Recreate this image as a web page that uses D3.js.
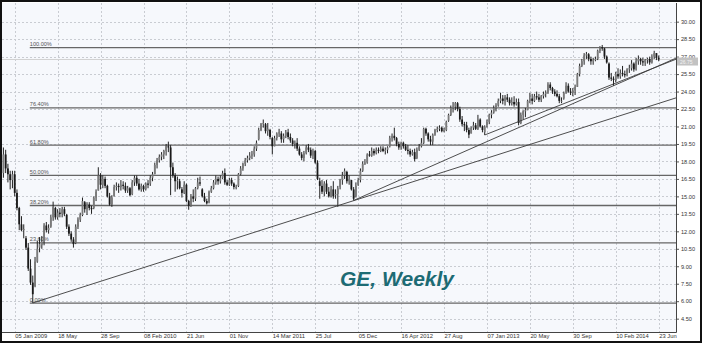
<!DOCTYPE html>
<html>
<head>
<meta charset="utf-8">
<script src="https://cdn.jsdelivr.net/npm/d3@7"></script>
<style>
  html, body { margin: 0; padding: 0; background: #fff; }
  svg { display: block; font-family: "Liberation Sans", Arial, sans-serif; }
</style>
</head>
<body>
<div id="container"></div>
<script>
// weekly bars, first one is the week of 01 Dec 2008
var firstWeek = "2008-12-01";
// [open, high, low, close]
var ohlc = [
  [17.0,19.2,16.6,18.6],[18.6,19.0,17.0,17.4],[17.4,17.8,16.2,16.9],[16.9,17.2,15.6,16.4],[16.4,17.2,15.7,16.9],
  [16.9,17.2,15.0,15.3],[15.3,15.6,13.8,14.0],[14.0,14.1,12.1,12.6],[12.6,13.3,12.0,12.1],[12.1,12.6,11.4,12.2],
  [11.4,11.6,10.4,10.6],[10.6,11.0,8.6,8.8],[8.8,9.6,7.4,7.6],[7.6,8.2,5.85,6.6],[7.3,9.8,7.2,9.4],
  [9.4,11.2,9.3,10.5],[10.6,11.5,10.2,10.9],[10.8,11.6,10.5,11.1],[11.1,12.7,10.8,12.5],[12.5,12.8,11.9,12.1],
  [12.1,12.6,11.8,12.3],[12.4,13.4,12.3,13.2],[13.2,14.55,12.9,14.1],[14.0,14.1,13.0,13.2],[13.2,13.9,13.0,13.6],
  [13.6,14.0,13.2,13.5],[13.5,14.1,13.2,13.9],[13.9,14.1,13.3,13.5],[13.4,13.5,12.2,12.4],[12.4,12.6,11.6,11.8],
  [11.8,12.0,11.1,11.3],[11.3,11.5,10.6,10.9],[11.0,12.6,10.9,12.4],[12.4,13.2,12.2,13.0],[13.0,13.6,12.8,13.4],
  [13.4,14.9,13.3,14.6],[14.5,14.6,13.6,13.9],[13.9,14.5,13.4,14.3],[14.3,14.5,13.8,14.0],[14.0,14.2,13.5,13.9],
  [14.0,15.0,13.9,14.9],[14.9,15.6,14.6,15.4],[15.5,17.5,15.5,16.8],[16.8,17.0,15.6,16.0],[16.0,16.8,15.7,16.5],
  [16.5,16.7,15.7,15.9],[15.9,16.0,14.9,15.0],[15.0,15.3,14.2,14.3],[14.3,15.1,14.1,14.9],[15.0,16.0,15.0,15.8],
  [15.8,16.2,15.5,15.9],[15.9,16.1,15.3,15.8],[15.8,16.4,15.5,16.0],[16.0,16.3,15.6,15.9],[15.9,16.2,15.3,15.5],
  [15.5,15.9,15.3,15.7],[15.7,15.8,15.0,15.1],[15.2,16.4,15.1,16.2],[16.2,16.8,15.9,16.6],[16.6,16.8,15.9,16.1],
  [16.1,16.5,15.5,15.6],[15.6,16.1,15.4,15.9],[15.9,16.0,15.4,15.6],[15.6,16.2,15.5,16.1],[16.1,16.4,15.7,16.0],
  [16.1,16.8,15.9,16.6],[16.6,17.1,16.3,16.9],[16.9,17.9,16.9,17.7],[17.7,18.3,17.4,18.1],[18.1,18.6,17.9,18.4],
  [18.4,18.8,18.1,18.6],[18.6,19.0,18.2,18.9],[18.9,19.5,18.5,19.3],[19.3,19.7,18.8,19.2],[19.2,19.4,15.1,17.5],
  [17.5,17.9,16.6,16.8],[16.8,17.0,15.4,16.3],[16.3,16.7,15.6,16.4],[16.3,16.5,15.6,15.7],[15.6,15.8,14.9,15.3],
  [15.3,16.3,15.2,16.0],[16.0,16.1,14.5,14.6],[14.6,14.7,13.85,14.2],[14.2,15.2,14.1,15.0],[15.0,15.6,14.5,14.8],
  [14.8,15.8,14.6,15.7],[15.7,16.6,15.6,16.2],[16.2,16.7,15.9,16.1],[15.6,15.7,14.9,15.0],[15.0,15.3,14.5,14.6],
  [14.6,14.8,14.3,14.4],[14.5,15.5,14.4,15.4],[15.4,15.9,15.3,15.7],[15.7,16.4,15.6,16.2],[16.2,16.8,16.0,16.5],
  [16.5,16.7,16.0,16.3],[16.3,16.8,16.1,16.6],[16.6,17.2,16.5,17.0],[17.0,17.4,16.0,16.2],[16.2,16.4,15.9,16.0],
  [16.0,16.6,15.9,16.4],[16.4,16.6,15.9,16.1],[16.1,16.2,15.6,15.8],[15.8,16.0,15.6,15.8],[15.9,17.0,15.8,16.9],
  [16.9,17.6,16.8,17.4],[17.4,17.9,17.2,17.8],[17.8,18.3,17.6,18.1],[18.1,18.5,17.9,18.3],[18.3,18.8,18.1,18.5],
  [18.5,18.9,18.2,18.6],[18.6,19.3,18.4,19.1],[19.1,19.8,18.9,19.6],[19.9,20.9,19.8,20.7],[20.7,21.3,20.6,21.2],
  [21.2,21.6,20.9,21.3],[21.2,21.3,20.4,20.6],[20.6,21.3,20.2,20.8],[20.7,20.8,19.9,20.1],[20.0,20.1,18.6,19.3],
  [19.3,20.2,19.3,20.0],[20.0,20.5,19.8,20.4],[20.4,20.8,20.1,20.5],[20.4,20.6,19.6,19.9],[19.9,20.4,19.6,20.2],
  [20.2,20.7,20.0,20.5],[20.5,20.8,19.9,20.1],[20.1,20.4,19.6,19.8],[19.8,20.0,19.3,19.5],[19.5,19.8,19.1,19.6],
  [19.6,20.0,18.9,19.1],[19.1,19.3,18.5,18.6],[18.6,18.8,18.1,18.3],[18.3,18.9,18.0,18.7],[18.7,19.4,18.6,19.2],
  [19.2,19.5,18.8,19.0],[19.0,19.2,18.3,18.5],[18.5,19.1,18.2,18.9],[18.9,19.0,17.8,17.9],[17.9,18.1,16.4,16.5],
  [16.3,16.6,14.8,15.9],[15.9,16.4,15.2,15.4],[15.4,16.3,15.0,16.1],[16.1,16.4,15.2,15.4],[15.4,15.8,14.9,15.0],
  [15.0,15.9,14.9,15.6],[15.6,16.3,14.8,15.0],[15.1,15.6,14.8,15.2],[15.2,15.9,14.1,15.7],[15.8,16.5,15.6,16.4],
  [16.4,17.1,16.0,16.8],[16.8,17.4,16.5,17.2],[17.1,17.2,16.1,16.3],[16.3,16.8,16.0,16.5],[16.4,16.4,15.5,15.6],
  [15.6,15.8,14.65,14.8],[15.0,16.2,14.9,15.9],[16.0,16.6,15.9,16.4],[16.4,17.4,16.2,17.2],[17.2,18.0,17.1,17.8],
  [17.8,18.2,17.7,17.9],[17.9,18.7,17.8,18.6],[18.6,18.9,18.4,18.5],[18.5,19.2,18.4,18.9],[18.9,19.1,18.5,18.7],
  [18.7,19.2,18.6,19.0],[19.0,19.2,18.7,18.9],[18.9,19.3,18.8,19.1],[19.1,19.3,18.8,18.9],[18.9,19.2,18.6,19.0],
  [19.0,19.3,18.7,19.2],[19.3,20.2,19.2,20.0],[20.0,20.4,19.7,20.2],[20.2,20.9,19.8,20.0],[20.0,20.1,19.3,19.5],
  [19.5,19.7,19.0,19.2],[19.2,19.7,19.0,19.6],[19.6,19.7,19.1,19.3],[19.3,19.5,18.9,19.0],[19.0,19.4,18.6,18.9],
  [18.9,19.1,18.4,18.6],[18.6,19.0,18.5,18.8],[18.8,19.1,18.0,18.2],[18.3,19.2,18.2,19.0],[19.0,19.5,18.9,19.3],
  [19.3,20.0,19.2,19.6],[19.6,20.9,19.5,20.8],[20.8,20.9,20.2,20.4],[20.4,20.5,19.7,19.9],[19.9,20.2,19.4,19.7],
  [19.7,20.4,19.4,20.3],[20.3,20.8,20.2,20.7],[20.7,21.0,20.5,20.8],[20.8,21.1,20.6,20.9],[20.9,21.0,20.5,20.6],
  [20.6,20.9,20.5,20.7],[20.7,21.5,20.6,21.4],[21.5,22.1,21.4,22.0],[22.0,22.8,21.9,22.6],[22.6,23.1,22.2,22.7],
  [22.7,23.1,22.4,23.0],[23.0,23.1,22.3,22.5],[22.5,22.7,21.4,21.6],[21.6,21.9,21.0,21.2],[21.2,21.4,20.6,21.1],
  [21.1,21.4,20.5,20.7],[20.7,20.9,20.0,20.3],[20.4,21.0,20.4,20.9],[20.9,21.4,20.7,21.1],[21.1,21.3,20.7,20.8],
  [20.8,22.0,20.7,21.6],[21.6,21.7,20.9,21.0],[21.0,21.1,20.5,20.7],[20.5,21.1,20.27,21.0],[21.1,21.6,20.9,21.4],
  [21.4,22.1,21.2,22.0],[22.0,22.4,21.7,22.2],[22.2,22.8,22.1,22.6],[22.6,23.0,22.3,22.8],[22.8,23.4,22.7,23.2],
  [23.2,23.9,23.0,23.4],[23.4,23.7,22.9,23.2],[23.2,23.7,22.8,23.5],[23.5,23.8,23.1,23.3],[23.3,23.5,22.8,23.0],
  [23.0,23.5,22.8,23.1],[23.1,23.6,22.7,22.9],[22.9,23.4,22.8,23.1],[23.1,23.4,21.1,21.3],[21.3,22.2,21.2,22.0],
  [22.0,22.4,21.6,22.3],[22.3,22.6,21.8,22.4],[22.4,23.3,22.4,23.2],[23.2,23.9,23.0,23.4],[23.4,23.8,22.9,23.2],
  [23.2,23.8,23.1,23.6],[23.6,24.0,23.3,23.5],[23.5,23.8,23.1,23.3],[23.3,23.7,23.1,23.6],[23.6,24.0,23.4,23.8],
  [23.8,24.1,23.5,23.9],[23.9,24.8,23.8,24.6],[24.6,24.8,24.1,24.3],[24.3,24.4,23.8,24.0],[24.0,24.2,23.6,23.8],
  [23.8,24.1,23.5,23.6],[23.6,23.8,23.0,23.2],[23.2,23.5,23.0,23.2],[23.4,24.0,23.3,23.9],[23.9,24.8,23.8,24.5],
  [24.5,24.7,23.9,24.0],[24.0,24.3,23.7,23.9],[23.9,24.3,23.6,24.1],[24.1,24.6,23.7,24.4],[24.4,25.6,24.4,25.5],
  [25.5,26.4,25.3,26.2],[26.2,26.8,26.1,26.6],[26.6,27.3,26.3,27.1],[27.1,27.4,26.8,27.2],[27.2,27.3,26.6,26.8],
  [26.8,27.0,26.3,26.6],[26.6,26.9,26.3,26.7],[26.7,27.0,26.6,26.8],[26.8,27.6,26.7,27.5],[27.5,27.9,27.3,27.8],
  [27.8,28.0,27.5,27.7],[27.7,27.75,26.8,27.0],[27.0,27.1,26.4,26.5],[26.4,26.5,25.0,25.2],[25.2,25.6,24.9,25.1],
  [25.1,25.3,24.5,25.0],[25.0,25.7,24.8,25.5],[25.5,26.0,25.1,25.3],[25.3,25.9,25.1,25.6],[25.6,26.2,25.3,25.5],
  [25.5,25.8,25.2,25.4],[25.4,26.0,25.3,25.9],[25.9,26.3,25.6,26.0],[26.0,26.7,25.8,26.4],[26.4,26.5,25.7,25.9],
  [25.9,26.9,25.8,26.6],[26.6,27.1,26.3,26.8],[26.8,26.9,26.3,26.6],[26.6,26.9,26.2,26.5],[26.5,26.8,26.2,26.7],
  [26.7,26.9,26.4,26.8],[26.8,27.0,26.3,26.5],[26.5,27.2,26.4,27.0],[27.0,27.5,26.8,27.3],[27.3,27.3,26.7,26.9],
  [26.9,27.1,26.6,26.75]
];
var lastPrice = 26.75;

var priceTicks = [4.5, 6, 7.5, 9, 10.5, 12, 13.5, 15, 16.5, 18, 19.5, 21, 22.5, 24, 25.5, 27, 28.5, 30];
var dateTicks = ["2009-01-05","2009-05-18","2009-09-28","2010-02-08","2010-06-21","2010-11-01","2011-03-14","2011-07-25",
  "2011-12-05","2012-04-16","2012-08-27","2013-01-07","2013-05-20","2013-09-30","2014-02-10","2014-06-23"];
var dateLabels = ["05 Jan 2009","18 May","28 Sep","08 Feb 2010","21 Jun","01 Nov","14 Mar 2011","25 Jul",
  "05 Dec","16 Apr 2012","27 Aug","07 Jan 2013","20 May","30 Sep","10 Feb 2014","23 Jun"];

// fibonacci retracement between the 2009 low and the 2013 high
var fibLow = 5.83, fibHigh = 27.78;
var fibLevels = [0, 23.6, 38.2, 50, 61.8, 76.4, 100];
var fibLabels = ["0.00%", "23.60%", "38.20%", "50.00%", "61.80%", "76.40%", "100.00%"];
var fibStart = "2009-03-02";

// trend lines: two anchors each, extended to the right edge
var trendLines = [
  [["2009-03-02", 5.85], ["2011-10-03", 14.2]],
  [["2011-11-21", 14.65], ["2014-02-03", 24.5]],
  [["2012-12-31", 20.27], ["2014-02-03", 24.65]]
];

var W = 702, H = 343;
var plot = { left: 2, right: 676, top: 3, bottom: 332 };
var parse = d3.utcParse("%Y-%m-%d");

var svg = d3.select("#container").append("svg")
  .attr("width", W)
  .attr("height", H);

svg.append("rect")
  .attr("x", 0).attr("y", 0).attr("width", W).attr("height", H)
  .attr("fill", "#fff");
svg.append("rect")
  .attr("x", plot.left).attr("y", plot.top)
  .attr("width", plot.right - plot.left).attr("height", plot.bottom - plot.top)
  .attr("fill", "#f6f8fc");

var x = d3.scaleUtc()
  .domain([parse("2009-01-05"), parse("2014-06-23")])
  .range([14.7, 658.7]);
var y = d3.scaleLinear()
  .domain([4.5, 30])
  .range([318.67, 21.67]);

svg.append("clipPath").attr("id", "clip")
  .append("rect")
  .attr("x", plot.left).attr("y", plot.top)
  .attr("width", plot.right - plot.left).attr("height", plot.bottom - plot.top);

var main = svg.append("g").attr("clip-path", "url(#clip)");

// dotted grid
main.selectAll("line.hgrid")
  .data(priceTicks)
  .enter().append("line")
  .attr("class", "hgrid")
  .attr("x1", plot.left).attr("x2", plot.right)
  .attr("y1", d => Math.round(y(d)) + 0.5).attr("y2", d => Math.round(y(d)) + 0.5)
  .attr("stroke", "#c9ccd2").attr("stroke-width", 1).attr("stroke-dasharray", "2,2");

main.selectAll("line.vgrid")
  .data(dateTicks)
  .enter().append("line")
  .attr("class", "vgrid")
  .attr("x1", d => Math.round(x(parse(d))) + 0.5).attr("x2", d => Math.round(x(parse(d))) + 0.5)
  .attr("y1", plot.top).attr("y2", plot.bottom)
  .attr("stroke", "#c9ccd2").attr("stroke-width", 1).attr("stroke-dasharray", "2,2");

// last price line
main.append("line")
  .attr("x1", plot.left).attr("x2", plot.right)
  .attr("y1", y(lastPrice)).attr("y2", y(lastPrice))
  .attr("stroke", "#d2d2d2").attr("stroke-width", 1.2);

// fibonacci levels
var fib = main.selectAll("g.fib")
  .data(fibLevels)
  .enter().append("g")
  .attr("class", "fib");
fib.append("line")
  .attr("x1", x(parse(fibStart)) - 3).attr("x2", plot.right)
  .attr("y1", d => y(fibLow + (fibHigh - fibLow) * d / 100))
  .attr("y2", d => y(fibLow + (fibHigh - fibLow) * d / 100))
  .attr("stroke", "#666").attr("stroke-width", 1.3);
fib.append("text")
  .attr("x", x(parse(fibStart)) - 3)
  .attr("y", d => y(fibLow + (fibHigh - fibLow) * d / 100) - 1.5)
  .attr("font-size", "5.6px")
  .attr("fill", "#555")
  .text((d, i) => fibLabels[i]);

// candles
var bars = ohlc.map((d, i) => ({
  date: d3.utcDay.offset(parse(firstWeek), 7 * i),
  o: d[0], h: d[1], l: d[2], c: d[3]
}));

var candle = main.selectAll("g.candle")
  .data(bars)
  .enter().append("g")
  .attr("class", "candle");
candle.append("line")
  .attr("x1", d => x(d.date)).attr("x2", d => x(d.date))
  .attr("y1", d => y(d.h)).attr("y2", d => y(d.l))
  .attr("stroke", "#222").attr("stroke-width", 1);
candle.append("rect")
  .attr("x", d => x(d.date) - 0.9)
  .attr("width", 1.8)
  .attr("y", d => y(Math.max(d.o, d.c)))
  .attr("height", d => Math.max(0.8, Math.abs(y(d.o) - y(d.c))))
  .attr("fill", d => d.c >= d.o ? "#7a7a7a" : "#1a1a1a");

// trend lines
var rightDate = x.invert(plot.right);
main.selectAll("line.trend")
  .data(trendLines)
  .enter().append("line")
  .attr("class", "trend")
  .attr("x1", d => x(parse(d[0][0])))
  .attr("y1", d => y(d[0][1]))
  .attr("x2", plot.right)
  .attr("y2", d => {
    var t0 = parse(d[0][0]), t1 = parse(d[1][0]);
    var k = (d[1][1] - d[0][1]) / (t1 - t0);
    return y(d[0][1] + k * (rightDate - t0));
  })
  .attr("stroke", "#3a3a3a").attr("stroke-width", 0.9);

// title
svg.append("text")
  .attr("x", 340).attr("y", 286)
  .attr("font-size", "21px")
  .attr("font-weight", "bold")
  .attr("font-style", "italic")
  .attr("fill", "#1d6b74")
  .text("GE, Weekly");

// axes
var yAxis = svg.append("g")
  .attr("transform", `translate(${plot.right},0)`)
  .call(d3.axisRight(y).tickValues(priceTicks).tickSize(3).tickPadding(2).tickFormat(d3.format(".2f")));
yAxis.select(".domain").remove();
yAxis.selectAll("line").attr("stroke", "#555");
yAxis.selectAll("text").attr("font-size", "5.6px").attr("fill", "#333")
  .attr("font-family", "'Liberation Sans', Arial, sans-serif");

var xAxis = svg.append("g")
  .attr("transform", `translate(0,${plot.bottom})`)
  .call(d3.axisBottom(x).tickValues(dateTicks.map(parse)).tickSize(0).tickPadding(2)
    .tickFormat((d, i) => dateLabels[i]));
xAxis.select(".domain").remove();
xAxis.selectAll("text")
  .attr("text-anchor", "start")
  .attr("font-size", "5.8px").attr("fill", "#333")
  .attr("font-family", "'Liberation Sans', Arial, sans-serif");

// plot frame
svg.append("line")
  .attr("x1", plot.left).attr("x2", plot.right + 0.5)
  .attr("y1", plot.bottom + 0.5).attr("y2", plot.bottom + 0.5)
  .attr("stroke", "#444");
svg.append("line")
  .attr("x1", plot.right + 0.5).attr("x2", plot.right + 0.5)
  .attr("y1", plot.top).attr("y2", plot.bottom + 0.5)
  .attr("stroke", "#444");

// last price marker, sits just under the 27.00 tick label
svg.append("rect")
  .attr("x", plot.right + 1).attr("y", y(lastPrice) - 2)
  .attr("width", 21).attr("height", 8)
  .attr("fill", "#c2c2c2");
svg.append("text")
  .attr("x", plot.right + 4).attr("y", y(lastPrice) + 4.6)
  .attr("font-size", "5px").attr("fill", "#f4f4f4")
  .text(d3.format(".2f")(lastPrice));

// outer border
svg.append("rect")
  .attr("x", 1).attr("y", 1).attr("width", W - 2).attr("height", H - 2)
  .attr("fill", "none").attr("stroke", "#111").attr("stroke-width", 2);
</script>
</body>
</html>
